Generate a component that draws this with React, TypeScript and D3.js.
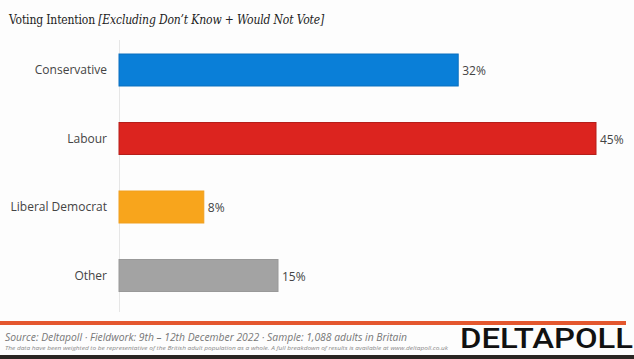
import React from "react";
import * as d3 from "d3";

const categories = ["Conservative", "Labour", "Liberal Democrat", "Other"];
const values = [32, 45, 8, 15];
const colors = ["#0a7fd8", "#dc241f", "#f8a51c", "#a3a3a3"];
const strokeColors = ["#0a6fbf", "#b51e1a", "#f0a020", "#999999"];

const W = 634;
const H = 359;

export default function App() {
  const x = d3.scaleLinear().domain([0, 45]).range([119, 596]);
  const y = d3
    .scaleBand<string>()
    .domain(categories)
    .range([35.75, 309.75])
    .paddingInner(0.533)
    .paddingOuter(0.2665);

  return (
    <svg
      width={W}
      height={H}
      style={{ position: "absolute", left: 0, top: 0, display: "block", background: "#fff" }}
      fontFamily="'Open Sans', sans-serif"
    >
      <rect x={0} y={0} width={W} height={H} fill="#fdfdfd" />
      <text x={9} y={24} fontFamily="'DejaVu Serif Condensed', 'DejaVu Serif', serif" fontSize={12} letterSpacing={-0.15} fill="#222">
        Voting Intention{" "}
        <tspan fontStyle="italic">[Excluding Don’t Know + Would Not Vote]</tspan>
      </text>

      <line x1={119.5} x2={119.5} y1={40} y2={312} stroke="#e6e6e6" strokeWidth={1} />

      {categories.map((c, i) => {
        const by = y(c)!;
        const bh = y.bandwidth();
        return (
          <g key={c}>
            <rect
              x={x(0)}
              y={by}
              width={x(values[i]) - x(0)}
              height={bh}
              fill={colors[i]}
              stroke={strokeColors[i]}
              strokeWidth={1}
            />
            <text x={107} y={by + bh / 2} dy="0.35em" textAnchor="end" fontSize={12} fill="#444">
              {c}
            </text>
            <text x={x(values[i]) + 4} y={by + bh / 2 + 1} dy="0.35em" fontSize={12} fill="#444">
              {values[i]}%
            </text>
          </g>
        );
      })}

      <rect x={0} y={321} width={626} height={4} fill="#e4572e" />
      <text x={5} y={341} fontSize={11} fontStyle="italic" fill="#777" textLength={402} lengthAdjust="spacingAndGlyphs">
        Source: Deltapoll · Fieldwork: 9th – 12th December 2022 · Sample: 1,088 adults in Britain
      </text>
      <text x={5} y={350} fontSize={5.5} fontStyle="italic" fill="#888" textLength={443} lengthAdjust="spacingAndGlyphs">
        The data have been weighted to be representative of the British adult population as a whole. A full breakdown of results is available at www.deltapoll.co.uk
      </text>
      <text x={460} y={348} fontSize={28} fontWeight={500} fontFamily="Roboto, 'DejaVu Sans', sans-serif" fill="#111" textLength={173} lengthAdjust="spacingAndGlyphs">
        DELTAPOLL
      </text>
      <rect x={0} y={355} width={W} height={4} fill="#2a2522" />
    </svg>
  );
}
